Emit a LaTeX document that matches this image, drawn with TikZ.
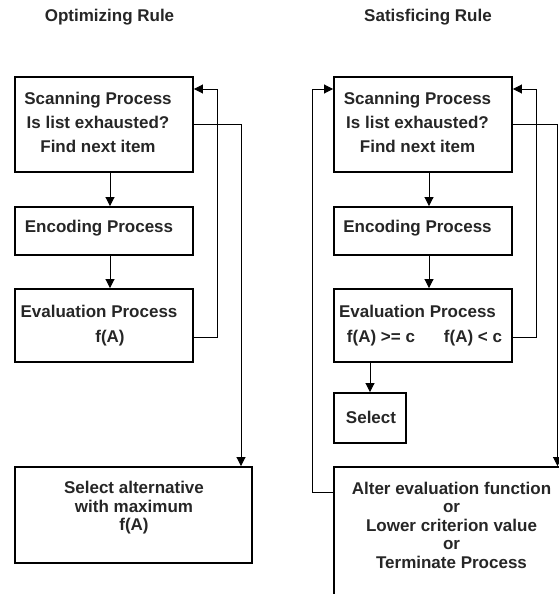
\documentclass[tikz,border=0pt]{standalone}
\usepackage{fontspec}
\setmainfont{Liberation Sans}
\usetikzlibrary{arrows.meta}

\begin{document}
\begin{tikzpicture}[x=1pt, y=-1pt,
    box/.style={draw, line width=1.9pt, minimum width=178pt, inner sep=0pt},
    txt/.style={font=\bfseries\fontsize{17}{24}\selectfont, align=center, inner sep=0pt, text=black!85},
    txtb/.style={txt, font=\bfseries\fontsize{17}{18.5}\selectfont},
    flow/.style={line width=0.9pt, -{Triangle[length=9pt,width=9pt]}}]
    \clip (0,0) rectangle (559,594);

    % Titles
    \node[txt] (titleL) at (109.5,17) {Optimizing Rule};
    \node[txt] (titleR) at (428,17) {Satisficing Rule};

    % Optimizing rule boxes
    \node[box, minimum height=95pt] (scanL) at (104,124.5) {};
    \node[box, minimum height=48pt] (encL) at (104,231) {};
    \node[box, minimum height=73pt] (evalL) at (104,325.5) {};
    \node[box, minimum width=237pt, minimum height=96pt] (selL) at (133.5,515) {};

    \node[txt] (scanLtxt) at (98,122) {Scanning Process\\Is list exhausted?\\Find next item};
    \node[txt] (encLtxt) at (99,228) {Encoding Process};
    \node[txt] (evalLtxt) at (99,311) {Evaluation Process};
    \node[txt] (fAL) at (110,338) {f(A)};
    \node[txtb] (selLtxt) at (134,508) {Select alternative\\with maximum\\f(A)};

    % Satisficing rule boxes
    \node[box, minimum height=95pt] (scanR) at (423,124.5) {};
    \node[box, minimum height=48pt] (encR) at (423,231) {};
    \node[box, minimum height=73pt] (evalR) at (423,325.5) {};
    \node[box, minimum width=72pt, minimum height=50pt] (selR) at (370,418) {};
    \node[box, minimum width=235pt, minimum height=173pt] (altR) at (451.5,553.5) {};

    \node[txt] (scanRtxt) at (417.5,122) {Scanning Process\\Is list exhausted?\\Find next item};
    \node[txt] (encRtxt) at (417.5,228) {Encoding Process};
    \node[txt] (evalRtxt) at (417.5,311) {Evaluation Process};
    \node[txt] (geR) at (381,338) {f(A) >= c};
    \node[txt] (ltR) at (473,338) {f(A) < c};
    \node[txt] (selRtxt) at (371,417) {Select};
    \node[txtb] (altRtxt) at (451.5,525) {Alter evaluation function\\or\\Lower criterion value\\or\\Terminate Process};

    % Optimizing rule connectors
    \draw[flow] ([xshift=6pt]scanL.south) -- ([xshift=6pt]encL.north);
    \draw[flow] ([xshift=6pt]encL.south) -- ([xshift=6pt]evalL.north);
    \coordinate (backL) at (217,89);
    \draw[flow] ([yshift=-11.5pt]evalL.east) -| (backL) -- (backL -| scanL.east);
    \coordinate (exitL) at (241,124.5);
    \draw[flow] (scanL.east) -- (exitL) -- (exitL |- selL.north);

    % Satisficing rule connectors
    \draw[flow] ([xshift=6pt]scanR.south) -- ([xshift=6pt]encR.north);
    \draw[flow] ([xshift=6pt]encR.south) -- ([xshift=6pt]evalR.north);
    \draw[flow] (selR.north |- evalR.south) -- (selR.north);
    \coordinate (backR) at (536,89);
    \draw[flow] ([yshift=-11.5pt]evalR.east) -| (backR) -- (backR -| scanR.east);
    \coordinate (exitR) at (557.5,124.5);
    \draw[flow] (scanR.east) -- (exitR) -- (exitR |- altR.north);
    \coordinate (retR) at (312,492);
    \draw[flow] (retR -| altR.west) -- (retR) -- (retR |- backR) -- (backR -| scanR.west);
\end{tikzpicture}
\end{document}
